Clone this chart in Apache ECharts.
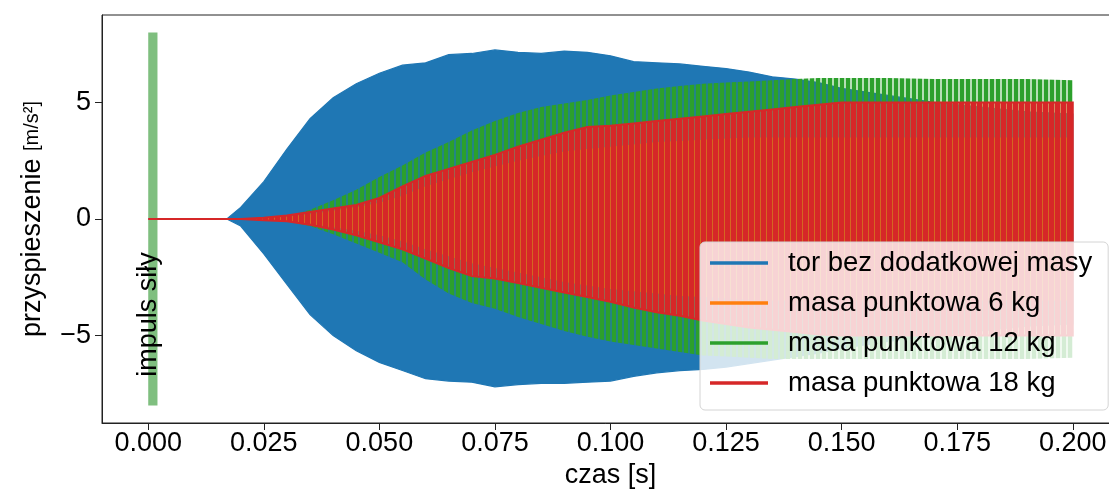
<!DOCTYPE html>
<html>
<head>
<meta charset="utf-8">
<script src="https://cdn.jsdelivr.net/npm/echarts@6/dist/echarts.min.js"></script>
<style>
  html, body { margin: 0; padding: 0; background: #fff; }
  #chart { width: 1109px; height: 489px; }
</style>
</head>
<body>
<div id="chart"></div>
<script>
// Envelope of the acceleration signals (upper and lower extremes of the oscillation) in m/s^2
const timeSamples = [0, 0.017, 0.02, 0.025, 0.03, 0.035, 0.04, 0.045, 0.05, 0.055, 0.06, 0.065, 0.07, 0.075, 0.08, 0.085, 0.09, 0.095, 0.1, 0.105, 0.11, 0.115, 0.12, 0.125, 0.13, 0.135, 0.14, 0.145, 0.15, 0.16, 0.17, 0.18, 0.19, 0.2];

const blueUpper = [0, 0, 0.5, 1.6, 3.0, 4.3, 5.2, 5.8, 6.25, 6.6, 6.7, 7.05, 7.1, 7.25, 7.15, 7.1, 7.2, 7.15, 7.0, 6.75, 6.7, 6.65, 6.55, 6.45, 6.3, 6.1, 6.0, 5.85, 5.6, 5.3, 5.0, 4.8, 4.6, 4.5];
const blueLower = [0, 0, -0.3, -1.5, -2.8, -4.1, -5.0, -5.65, -6.15, -6.5, -6.85, -6.95, -7.0, -7.2, -7.1, -7.05, -7.05, -7.0, -6.95, -6.75, -6.6, -6.5, -6.45, -6.35, -6.2, -6.05, -5.9, -5.75, -5.55, -5.25, -5.0, -4.8, -4.6, -4.5];

const orangeUpper = [0, 0, 0, 0.03, 0.1, 0.2, 0.35, 0.5, 0.7, 1.0, 1.4, 1.7, 2.0, 2.25, 2.5, 2.7, 2.9, 3.0, 3.1, 3.2, 3.3, 3.35, 3.4, 3.45, 3.5, 3.5, 3.5, 3.5, 3.5, 3.5, 3.5, 3.5, 3.5, 3.5];
const orangeLower = [0, 0, 0, -0.03, -0.1, -0.2, -0.35, -0.5, -0.7, -0.95, -1.3, -1.6, -1.9, -2.1, -2.3, -2.5, -2.7, -2.85, -3.0, -3.1, -3.2, -3.3, -3.35, -3.4, -3.45, -3.5, -3.5, -3.5, -3.5, -3.5, -3.5, -3.5, -3.5, -3.5];

const greenUpper = [0, 0, 0, 0, 0.1, 0.4, 0.8, 1.25, 1.8, 2.3, 2.85, 3.3, 3.8, 4.2, 4.55, 4.8, 4.95, 5.1, 5.3, 5.45, 5.6, 5.7, 5.8, 5.85, 5.9, 5.95, 6.0, 6.05, 6.05, 6.05, 6.0, 6.0, 6.0, 5.95];
const greenLower = [0, 0, 0, 0, -0.1, -0.3, -0.65, -1.05, -1.45, -1.85, -2.6, -3.2, -3.6, -3.85, -4.2, -4.5, -4.8, -5.05, -5.25, -5.4, -5.55, -5.7, -5.85, -5.9, -5.95, -6.0, -6.0, -6.0, -6.0, -6.0, -6.0, -6.0, -6.0, -5.95];

const redUpper = [0, 0, 0, 0.05, 0.15, 0.3, 0.45, 0.6, 0.9, 1.4, 1.85, 2.15, 2.45, 2.75, 3.1, 3.4, 3.7, 3.95, 4.0, 4.1, 4.2, 4.3, 4.4, 4.5, 4.6, 4.7, 4.8, 4.9, 5.0, 5.0, 5.0, 5.0, 5.0, 5.0];
const redLower = [0, 0, 0, -0.05, -0.1, -0.25, -0.45, -0.7, -1.0, -1.3, -1.7, -2.1, -2.45, -2.55, -2.75, -2.95, -3.15, -3.35, -3.55, -3.8, -4.0, -4.15, -4.35, -4.5, -4.65, -4.75, -4.85, -4.95, -5.0, -5.0, -5.0, -5.0, -5.0, -5.0];

const seriesNames = ['tor bez dodatkowej masy', 'masa punktowa 6 kg', 'masa punktowa 12 kg', 'masa punktowa 18 kg'];

// Force impulse: time span [s] and drawn height
const impulseSpan = [0, 0.002];
const impulseRange = [-8, 8];
const impulseText = 'impuls siły';

const xTicks = [0, 0.025, 0.05, 0.075, 0.1, 0.125, 0.15, 0.175, 0.2];
const yTicks = [-5, 0, 5];

const FONT = 'Liberation Sans, Arial, sans-serif';
const COLORS = { blue: '#1f77b4', orange: '#ff7f0e', green: '#2ca02c', red: '#d62728' };

// Vertical stripe texture imitating the dense oscillation lines
function stripes(solid, gap, period, gapWidth, gapOffset) {
  const c = document.createElement('canvas');
  c.width = period; c.height = 2;
  const ctx = c.getContext('2d');
  ctx.fillStyle = solid;
  ctx.fillRect(0, 0, period, 2);
  ctx.clearRect(gapOffset, 0, gapWidth, 2);
  ctx.fillStyle = gap;
  ctx.fillRect(gapOffset, 0, gapWidth, 2);
  return { image: c, repeat: 'repeat' };
}

function rows(upper, lower) {
  return timeSamples.map((t, i) => [t, upper[i], lower[i]]);
}

function bandSeries(name, color, upper, lower, fill, strokeWidth) {
  const data = rows(upper, lower);
  return {
    type: 'custom',
    name: name,
    silent: true,
    itemStyle: { color: color },
    data: data,
    encode: { x: 0, y: [1, 2] },
    renderItem: function (params, api) {
      if (params.dataIndex !== 0) return null;
      const top = data.map(d => api.coord([d[0], d[1]]));
      const bottom = data.slice().reverse().map(d => api.coord([d[0], d[2]]));
      return {
        type: 'polygon',
        shape: { points: top.concat(bottom) },
        style: {
          fill: fill,
          stroke: strokeWidth ? color : null,
          lineWidth: strokeWidth || 0
        }
      };
    }
  };
}

const chart = echarts.init(document.getElementById('chart'), null, { renderer: 'canvas' });

const greenFill = stripes(COLORS.green, 'rgba(44,160,44,0.35)', 6, 2, 4);
const redFill = stripes(COLORS.red, 'rgba(235,80,40,0.6)', 6, 1, 4);

const option = {
  animation: false,
  backgroundColor: '#fff',
  grid: {
    left: 102, top: 15, right: -10, bottom: 66,
    outerBoundsMode: 'none', containLabel: false,
    show: true, borderColor: '#222', borderWidth: 1
  },
  xAxis: {
    type: 'value', min: -0.01, max: 0.21,
    name: 'czas [s]', nameLocation: 'middle', nameGap: 33,
    nameTextStyle: { fontFamily: FONT, fontSize: 27, color: '#000' },
    axisLine: { show: true, onZero: false, lineStyle: { color: '#222', width: 1 } },
    axisTick: { show: true, length: 7, lineStyle: { color: '#222' }, customValues: xTicks },
    axisLabel: { fontFamily: FONT, fontSize: 27, color: '#000', margin: 7, customValues: xTicks, formatter: v => v.toFixed(3) },
    splitLine: { show: false }
  },
  yAxis: {
    type: 'value', min: -8.75, max: 8.75,
    name: '{a|przyspieszenie }{b|[m/s²]}', nameLocation: 'middle', nameGap: 56, nameRotate: 90,
    nameTextStyle: {
      fontFamily: FONT, fontSize: 27, color: '#000',
      rich: { a: { fontFamily: FONT, fontSize: 27, color: '#000' }, b: { fontFamily: FONT, fontSize: 20, color: '#000' } }
    },
    axisLine: { show: true, onZero: false, lineStyle: { color: '#222', width: 1 } },
    axisTick: { show: true, length: 7, lineStyle: { color: '#222' }, customValues: yTicks },
    axisLabel: { fontFamily: FONT, fontSize: 27, color: '#000', margin: 11, customValues: yTicks, formatter: v => (v < 0 ? '\u2212' + Math.abs(v) : String(v)) },
    splitLine: { show: false }
  },
  legend: {
    data: seriesNames.map(n => ({ name: n, icon: 'rect' })),
    orient: 'vertical', left: 700, top: 242,
    itemWidth: 58, itemHeight: 3.5, itemGap: 10,
    padding: [6, 16, 12, 10],
    backgroundColor: 'rgba(255,255,255,0.8)', borderColor: '#d4d4d4', borderWidth: 1, borderRadius: 5,
    textStyle: { fontFamily: FONT, fontSize: 27.5, color: '#000', lineHeight: 30, padding: [0, 0, 0, 15] },
    selectedMode: false
  },
  series: [
    {
      type: 'custom',
      silent: true,
      data: [[impulseSpan[0], impulseSpan[1], impulseRange[0], impulseRange[1]]],
      renderItem: function (params, api) {
        const p0 = api.coord([api.value(0), api.value(3)]);
        const p1 = api.coord([api.value(1), api.value(2)]);
        const mid = api.coord([api.value(0), -4.1]);
        return {
          type: 'group',
          children: [
            { type: 'rect', shape: { x: p0[0], y: p0[1], width: p1[0] - p0[0], height: p1[1] - p0[1] }, style: { fill: '#7fbf7f' } },
            { type: 'text', x: mid[0], y: mid[1], rotation: Math.PI / 2,
              style: { text: impulseText, fontFamily: FONT, fontSize: 27, fill: '#000', align: 'center', verticalAlign: 'middle' } }
          ]
        };
      },
      z: 1
    },
    bandSeries(seriesNames[0], COLORS.blue, blueUpper, blueLower, COLORS.blue, 1.2),
    bandSeries(seriesNames[1], COLORS.orange, orangeUpper, orangeLower, COLORS.orange, 0),
    bandSeries(seriesNames[2], COLORS.green, greenUpper, greenLower, greenFill, 0),
    bandSeries(seriesNames[3], COLORS.red, redUpper, redLower, redFill, 2)
  ]
};

chart.setOption(option);
</script>
</body>
</html>
